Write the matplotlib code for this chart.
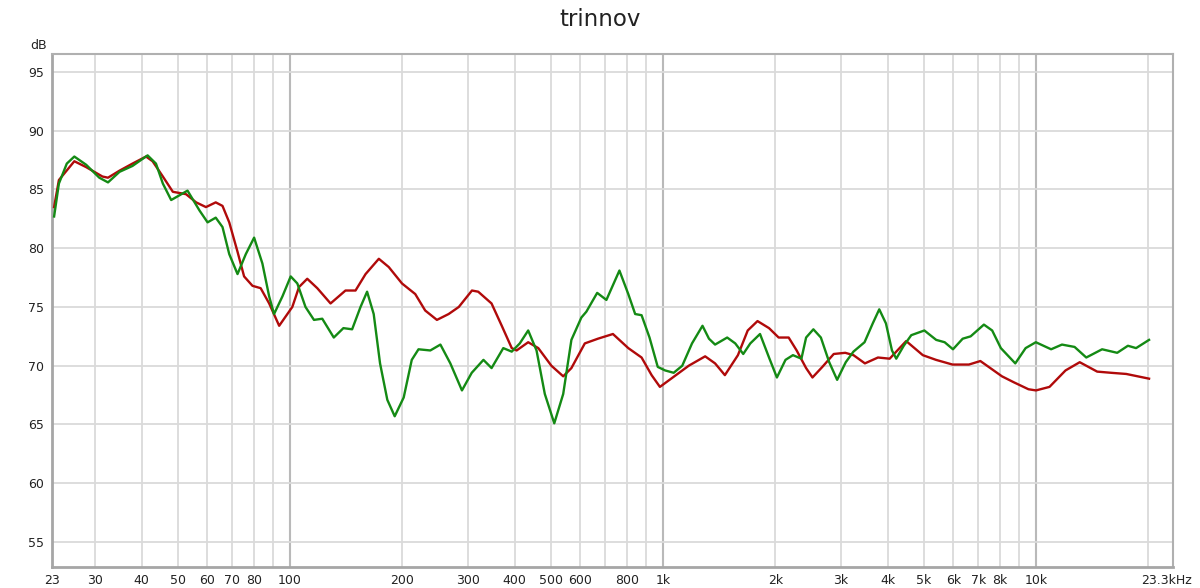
import matplotlib
matplotlib.use("Agg")
import matplotlib.pyplot as plt
from matplotlib.transforms import ScaledTranslation

title = "trinnov"

red_freq = [23.3, 24.0, 26.4, 28.4, 31.4, 32.5, 34.9, 37.8, 41.1, 42.8, 45.6, 48.5,
            52.6, 56.0, 59.5, 63.2, 65.9, 68.7, 72.3, 75.3, 79.3, 83.4, 87.9, 93.5,
            101.4, 105.7, 111.2, 118.3, 128.4, 140.8, 149.8, 159.4, 173.0, 183.9,
            199.6, 216.6, 230.3, 247.6, 266.2, 283.4, 307.4, 319.5, 346.9, 369.5,
            393, 405, 435, 463, 502, 540, 568, 617, 669, 734, 807, 876, 932, 981,
            1083, 1172, 1297, 1379, 1465, 1588, 1687, 1792, 1924, 2042, 2172, 2282,
            2419, 2516, 2674, 2869, 3080, 3241, 3478, 3770, 4052, 4487, 4972, 5394,
            5973, 6609, 7093, 7544, 8104, 8710, 9545, 10000, 10870, 12000, 13100,
            14590, 15890, 17460, 20100]
red_db = [83.5, 85.8, 87.4, 86.9, 86.1, 86.0, 86.6, 87.2, 87.8, 87.4, 86.1, 84.8,
          84.6, 83.9, 83.5, 83.9, 83.6, 82.2, 79.7, 77.6, 76.8, 76.6, 75.3, 73.4,
          75.0, 76.7, 77.4, 76.6, 75.3, 76.4, 76.4, 77.8, 79.1, 78.4,
          77.0, 76.1, 74.7, 73.9, 74.4, 75.0, 76.4, 76.3, 75.3, 73.4,
          71.5, 71.3, 72.0, 71.5, 70.0, 69.1, 69.8, 71.9, 72.3, 72.7, 71.5, 70.7, 69.2, 68.2,
          69.2, 70.0, 70.8, 70.2, 69.2, 70.9, 73.0, 73.8, 73.2, 72.4, 72.4, 71.3,
          69.8, 69.0, 69.9, 71.0, 71.1, 70.9, 70.2, 70.7, 70.6, 72.1, 70.9, 70.5,
          70.1, 70.1, 70.4, 69.8, 69.1, 68.6, 68.0, 67.9, 68.2, 69.6, 70.3,
          69.5, 69.4, 69.3, 68.9]

green_freq = [23.3, 24.0, 25.2, 26.4, 28.4, 30.8, 32.5, 34.9, 37.8, 41.5, 43.7, 45.6,
              48.0, 50.5, 53.1, 57.2, 60.1, 63.2, 65.9, 68.7, 72.3, 76.1, 80.1, 84.3,
              87.9, 90.6, 95.4, 100.4, 104.6, 110, 115.9, 122, 131, 139, 146.7, 154.5,
              160.9, 167.6, 174.3, 182.3, 190.8, 201.7, 212, 221, 237.7, 253, 269, 289,
              307, 330, 347, 373, 393, 413, 435, 458, 482, 511, 540, 568, 604, 623,
              666, 705, 764, 807, 842, 876, 920, 968, 1013, 1068, 1126, 1196, 1276,
              1328, 1379, 1486, 1562, 1641, 1714, 1820, 1924, 2020, 2130, 2230, 2350,
              2419, 2530, 2650, 2790, 2930, 3090, 3240, 3470, 3650, 3800, 3960, 4110,
              4220, 4420, 4630, 5020, 5400, 5690, 5990, 6360, 6680, 7250, 7630, 8050,
              8800, 9380, 9990, 10980, 11740, 12690, 13640, 15040, 16510, 17640,
              18550, 20100]
green_db = [82.7, 85.5, 87.2, 87.8, 87.1, 86.0, 85.6, 86.5, 87.0, 87.9, 87.2, 85.5,
            84.1, 84.5, 84.9, 83.2, 82.2, 82.6, 81.8, 79.5, 77.8, 79.5, 80.9, 78.7,
            75.9, 74.4, 75.9, 77.6, 77.0, 75.0, 73.9, 74.0, 72.4, 73.2, 73.1, 75.0,
            76.3, 74.4, 70.2, 67.1, 65.7, 67.3, 70.5, 71.4, 71.3, 71.8, 70.2, 67.9,
            69.4, 70.5, 69.8, 71.5, 71.2, 71.9, 73.0, 71.3, 67.6, 65.1, 67.6, 72.2, 74.1, 74.6,
            76.2, 75.6, 78.1, 76.1, 74.4, 74.3, 72.4, 69.9, 69.6, 69.4, 70.0, 71.9, 73.4,
            72.3, 71.8, 72.4, 71.9, 71.0, 71.9, 72.7, 70.7, 69.0, 70.5, 70.9, 70.6,
            72.4, 73.1, 72.4, 70.3, 68.8, 70.3, 71.2, 72.0, 73.6, 74.8, 73.6, 71.3,
            70.6, 71.7, 72.6, 73.0, 72.2, 72.0, 71.4, 72.3, 72.5, 73.5, 73.0, 71.5,
            70.2, 71.5, 72.0, 71.4, 71.8, 71.6, 70.7, 71.4, 71.1, 71.7,
            71.5, 72.2]

xticks = [23, 30, 40, 50, 60, 70, 80, 100, 200, 300, 400, 500, 600, 800,
          1000, 2000, 3000, 4000, 5000, 6000, 7000, 8000, 10000, 23300]
xticklabels = ["23", "30", "40", "50", "60", "70", "80", "100", "200", "300", "400",
               "500", "600", "800", "1k", "2k", "3k", "4k", "5k", "6k", "7k", "8k",
               "10k", "23.3kHz"]
minor_grid = [30, 40, 50, 60, 70, 80, 90, 200, 300, 400, 500, 600, 700, 800, 900,
              2000, 3000, 4000, 5000, 6000, 7000, 8000, 9000, 20000]
major_grid = [100, 1000, 10000]
yticks = [55, 60, 65, 70, 75, 80, 85, 90, 95]

fig = plt.figure(figsize=(12, 5.88), dpi=100)
ax = fig.add_axes([52 / 1200, (588 - 566.7) / 588, (1173 - 52) / 1200, (566.7 - 54.3) / 588])
ax.set_xscale("log")
ax.set_xlim(23.4, 23300)
ax.set_ylim(52.9, 96.5)

for f in minor_grid:
    ax.axvline(f, color="#dadada", lw=1.3, zorder=0)
for f in major_grid:
    ax.axvline(f, color="#b9b9b9", lw=1.5, zorder=0)
for y in yticks:
    ax.axhline(y, color="#dadada", lw=1.3, zorder=0)

ax.plot(red_freq, red_db, color="#b00a0a", lw=1.7, solid_joinstyle="round", zorder=3)
ax.plot(green_freq, green_db, color="#148a14", lw=1.7, solid_joinstyle="round", zorder=4)

ax.xaxis.set_minor_locator(matplotlib.ticker.NullLocator())
ax.set_xticks(xticks)
ax.set_xticklabels(xticklabels)
ax.set_yticks(yticks)
ax.set_yticklabels([str(v) for v in yticks])
ax.tick_params(axis="both", length=0, labelsize=9, colors="#222222")
ax.tick_params(axis="x", pad=5)
ax.tick_params(axis="y", pad=6)
last = ax.get_xticklabels()[-1]
last.set_transform(last.get_transform() + ScaledTranslation(-7 / 100, 0, fig.dpi_scale_trans))

for side in ["left", "bottom"]:
    ax.spines[side].set_color("#a6a6a6")
    ax.spines[side].set_linewidth(2.0)
for side in ["top", "right"]:
    ax.spines[side].set_color("#b0b0b0")
    ax.spines[side].set_linewidth(1.5)

fig.text(47 / 1200, 1 - 45.7 / 588, "dB", ha="right", va="center", fontsize=9, color="#222222")
fig.text(0.5, 1 - 20 / 588, title, ha="center", va="center", fontsize=16.5, color="#222222")

fig.savefig("out.png", dpi=100)
